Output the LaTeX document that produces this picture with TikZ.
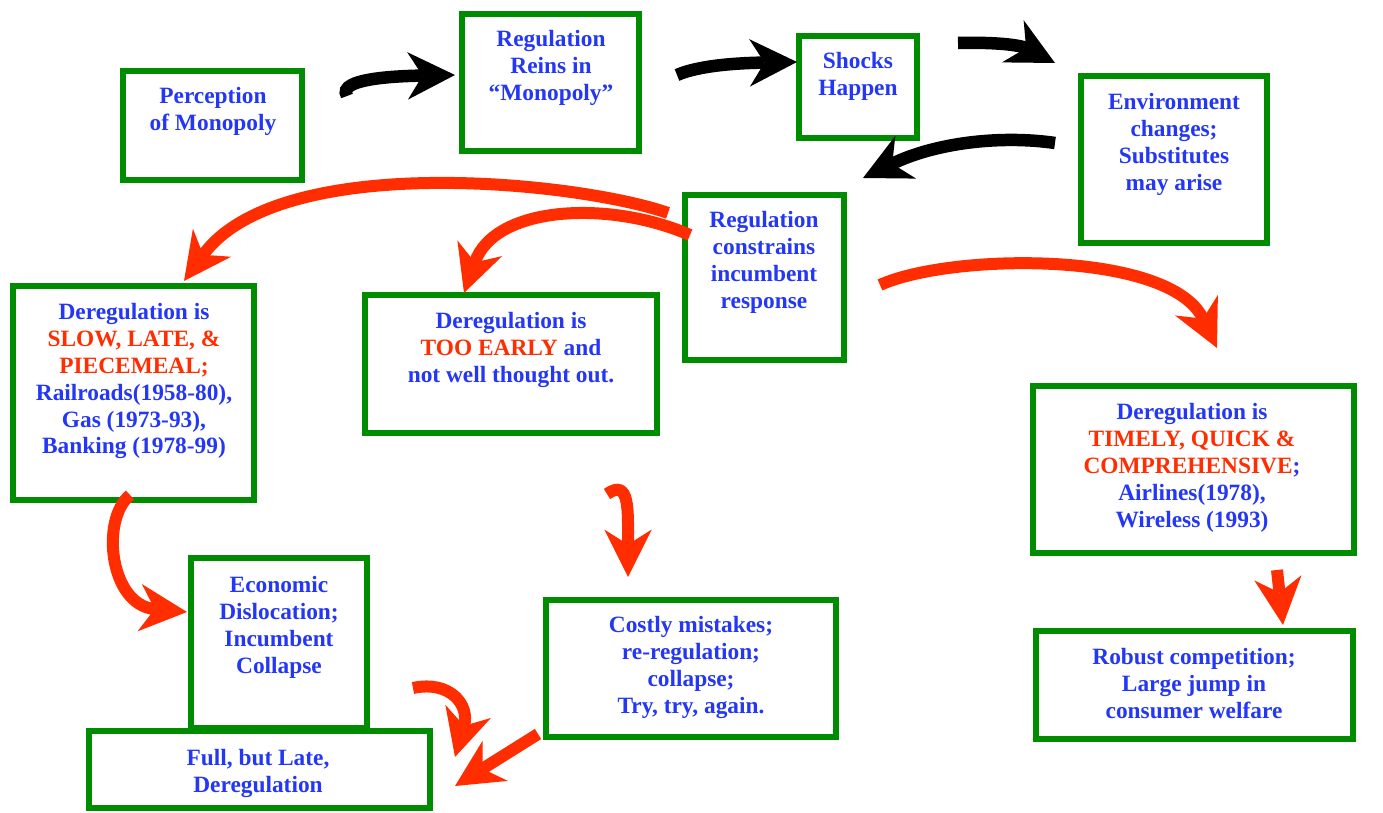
\documentclass[tikz,border=0pt]{standalone}
\usepackage{fontspec}
\setmainfont{Liberation Serif}
\usetikzlibrary{arrows.meta, positioning}

\definecolor{boxgreen}{RGB}{0,140,0}
\definecolor{txtblue}{RGB}{35,55,245}
\definecolor{hotred}{RGB}{255,45,0}

\begin{document}
\begin{tikzpicture}[
    % one unit = one pixel of the slide
    x=0.02cm, y=-0.02cm,
    % Green frame of each stage
    box/.style={draw=boxgreen, line width=0.12cm, fill=white, inner sep=0pt},
    sz/.style 2 args={minimum width=#1*0.02cm, minimum height=#2*0.02cm},
    % Typography helpers
    txt/.style={anchor=north, align=center, inner sep=0pt, text=txtblue,
        font=\fontsize{13.3}{15.3}\selectfont\bfseries},
    % Fat block arrows
    tip/.style={-{Stealth[length=0.95cm, width=0.95cm, inset=0.3cm, line width=0pt]}},
    blkarrow/.style={tip, draw=black, line width=0.25cm},
    redarrow/.style={tip, draw=hotred, line width=0.24cm}
]
    \useasboundingbox (0,0) rectangle (1383,813);

    % ==========================================
    % 1. STAGE BOXES
    % ==========================================
    \node[box, sz={179}{109}] (perc) at (212.5,125.5) {};
    \node[box, sz={177}{137}] (reins) at (550.5,82.5) {};
    \node[box, sz={118}{102}] (shocks) at (858,87) {};
    \node[box, sz={186}{167}] (env) at (1174,159.5) {};
    \node[box, sz={159}{165}] (constr) at (764.5,277.5) {};
    \node[box, sz={241}{214}] (slow) at (133.5,393) {};
    \node[box, sz={292}{138}] (early) at (511,364) {};
    \node[box, sz={321}{167}] (timely) at (1193.5,469.5) {};
    \node[box, sz={176}{170}] (econ) at (279,643) {};
    \node[box, sz={341}{77}] (full) at (259.5,769.5) {};
    \node[box, sz={290}{137}] (costly) at (691,668.5) {};
    \node[box, sz={317}{108}] (robust) at (1194.5,685) {};

    % Box texts
    \node[txt] (perc_t) at (213,87) {Perception\\of Monopoly};
    \node[txt] (reins_t) at (551,30) {Regulation\\Reins in\\“Monopoly”};
    \node[txt] (shocks_t) at (858,52) {Shocks\\Happen};
    \node[txt] (env_t) at (1174,93) {Environment\\changes;\\Substitutes\\may arise};
    \node[txt] (constr_t) at (764,211) {Regulation\\constrains\\incumbent\\response};
    \node[txt] (slow_t) at (134,303) {Deregulation is\\
        \textcolor{hotred}{SLOW, LATE, \&}\\\textcolor{hotred}{PIECEMEAL;}\\
        Railroads(1958-80),\\Gas (1973-93),\\Banking (1978-99)};
    \node[txt] (early_t) at (511,312) {Deregulation is\\
        \textcolor{hotred}{TOO EARLY} and\\not well thought out.};
    \node[txt] (timely_t) at (1192,403) {Deregulation is\\
        \textcolor{hotred}{TIMELY, QUICK \&}\\\textcolor{hotred}{COMPREHENSIVE};\\
        Airlines(1978),\\Wireless (1993)};
    \node[txt] (econ_t) at (279,576) {Economic\\Dislocation;\\Incumbent\\Collapse};
    \node[txt] (full_t) at (258,749) {Full, but Late,\\Deregulation};
    \node[txt] (costly_t) at (691,616) {Costly mistakes;\\re-regulation;\\collapse;\\Try, try, again.};
    \node[txt] (robust_t) at (1194,648) {Robust competition;\\Large jump in\\consumer welfare};

    % ==========================================
    % 2. ARROW END POINTS
    % ==========================================
    \coordinate (a1s) at (347,96);   \coordinate (a1e) at (455,75);
    \coordinate (a2s) at (677,75);   \coordinate (a2e) at (797,62);
    \coordinate (a3s) at (958,43);   \coordinate (a3e) at (1055,63);
    \coordinate (a4s) at (1055,143); \coordinate (a4e) at (863,178);
    \coordinate (r1s) at (668,213);  \coordinate (r1e) at (184,281);
    \coordinate (r2s) at (690,235);  \coordinate (r2e) at (464,293);
    \coordinate (r3s) at (880,285);  \coordinate (r3e) at (1217,348);
    \coordinate (r4s) at (130,495);  \coordinate (r4e) at (187,612);
    \coordinate (r5s) at (607,494);  \coordinate (r5e) at (628,577);
    \coordinate (r6s) at (413,688);  \coordinate (r6e) at (455,757);
    \coordinate (r7s) at (538,734);  \coordinate (r7e) at (455,786);
    \coordinate (r8s) at (1277,570); \coordinate (r8e) at (1283,625);

    % Black flow along the top
    \draw[blkarrow] (a1s) .. controls (336,78) and (400,76) .. (a1e);
    \draw[blkarrow] (a2s) .. controls (700,65) and (740,63) .. (a2e);
    \draw[blkarrow] (a3s) .. controls (995,42) and (1020,45) .. (a3e);
    \draw[blkarrow] (a4s) .. controls (1000,135) and (935,143) .. (a4e);

    % Red outcome branches
    \draw[redarrow] (r1s) .. controls (580,182) and (280,150) .. (r1e);
    \draw[redarrow] (r2s) .. controls (610,200) and (495,205) .. (r2e);
    \draw[redarrow] (r3s) .. controls (950,253) and (1170,250) .. (r3e);
    \draw[redarrow] (r4s) .. controls (100,520) and (110,605) .. (r4e);
    \draw[redarrow] (r5s) .. controls (630,478) and (628,510) .. (r5e);
    \draw[redarrow] (r6s) .. controls (450,680) and (470,705) .. (r6e);
    \draw[redarrow] (r7s) -- (r7e);
    \draw[redarrow] (r8s) -- (r8e);

\end{tikzpicture}
\end{document}
